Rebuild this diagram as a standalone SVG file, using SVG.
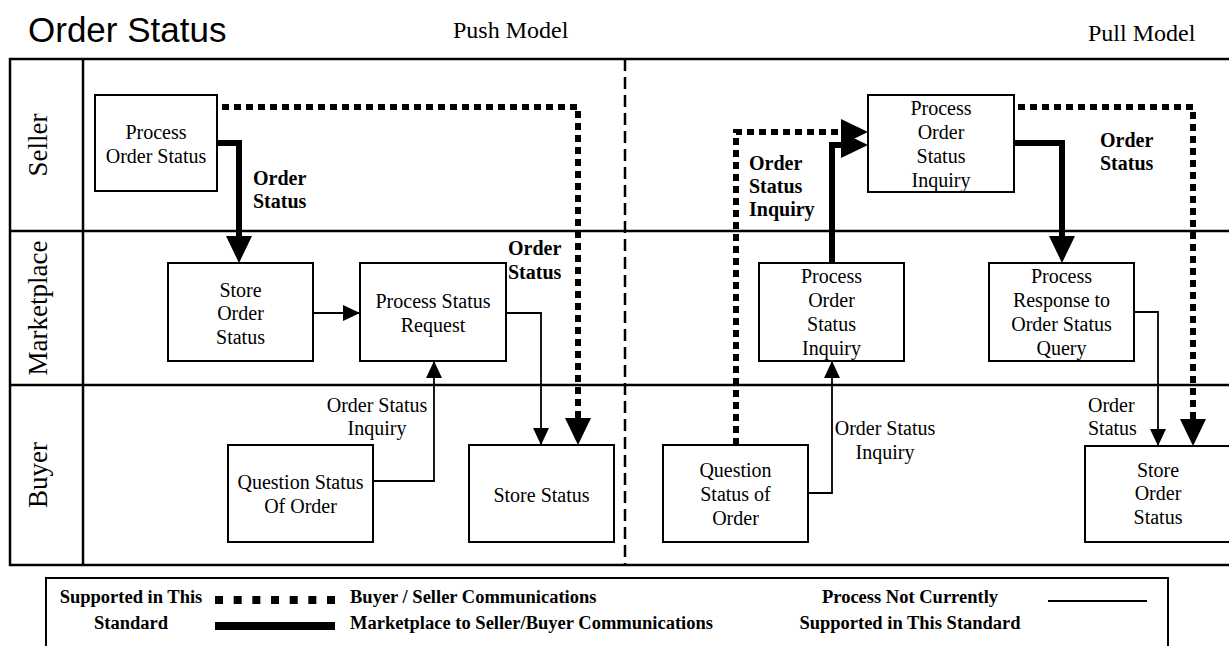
<svg xmlns="http://www.w3.org/2000/svg" width="1229" height="646" viewBox="0 0 1229 646">
<defs>
<style>
.frame{stroke:#000;stroke-width:2.5;fill:none}
.box{fill:#fff;stroke:#000;stroke-width:2}
.t{font-family:"Liberation Serif","Times New Roman",serif;font-size:20px;fill:#000}
.c{text-anchor:middle}
.b{font-weight:bold}
.lane{font-family:"Liberation Serif","Times New Roman",serif;font-size:27px;text-anchor:middle;fill:#000}
.model{font-family:"Liberation Serif","Times New Roman",serif;font-size:24px;fill:#000}
.leg{font-family:"Liberation Serif","Times New Roman",serif;font-size:18.5px;font-weight:bold;fill:#000}
.thin{stroke:#000;stroke-width:1.8;fill:none;marker-end:url(#aThin)}
.thick{stroke:#000;stroke-width:6;fill:none;marker-end:url(#aBig)}
.dot{stroke:#000;stroke-width:6;fill:none;stroke-dasharray:7 5;marker-end:url(#aBig)}
</style>
<marker id="aThin" markerUnits="userSpaceOnUse" markerWidth="17" markerHeight="16" refX="17" refY="8" orient="auto" overflow="visible">
<path d="M0,0 L17,8 L0,16 z" fill="#000"/>
</marker>
<marker id="aBig" markerUnits="userSpaceOnUse" markerWidth="27" markerHeight="26" refX="1" refY="13" orient="auto" overflow="visible">
<path d="M0,0 L27,13 L0,26 z" fill="#000"/>
</marker>
</defs>
<rect width="1229" height="646" fill="#fff"/>

<text x="28" y="42" font-family="'Liberation Sans',Arial,sans-serif" font-size="35" fill="#000">Order Status</text>
<text class="model" x="453" y="38">Push Model</text>
<text class="model" x="1088" y="41">Pull Model</text>

<g id="frame">
<path class="frame" d="M1229,59 H10 V565 H1229"/>
<line class="frame" x1="10" y1="231" x2="1229" y2="231"/>
<line class="frame" x1="10" y1="385" x2="1229" y2="385"/>
<line class="frame" x1="83" y1="59" x2="83" y2="565"/>
<line x1="625" y1="59" x2="625" y2="565" stroke="#000" stroke-width="2.5" stroke-dasharray="12 6"/>
<text class="lane" transform="translate(47,145) rotate(-90)">Seller</text>
<text class="lane" transform="translate(47,308) rotate(-90)">Marketplace</text>
<text class="lane" transform="translate(47,475) rotate(-90)">Buyer</text>
</g>

<g id="connectors">
<path class="thick" d="M217,143 H239 V237"/>
<path class="dot" d="M222,107 H578 V419"/>
<path class="thin" d="M313,313 H360"/>
<path class="thin" d="M506,313 H541 V445"/>
<path class="thin" d="M373,481 H434 V361"/>
<path class="dot" d="M736,445 V132 H842"/>
<path class="thick" d="M832,263 V145 H842"/>
<path class="thick" d="M1014,143 H1062 V237"/>
<path class="dot" d="M1018,107 H1193 V420"/>
<path class="thin" d="M1134,312 H1158 V446"/>
<path class="thin" d="M808,493 H832 V361"/>
<text class="t b" x="253" y="185">Order</text>
<text class="t b" x="253" y="208">Status</text>
<text class="t b" x="508" y="255">Order</text>
<text class="t b" x="508" y="279">Status</text>
<text class="t c" x="377" y="412">Order Status</text>
<text class="t c" x="377" y="435">Inquiry</text>
<text class="t b" x="749" y="170">Order</text>
<text class="t b" x="749" y="193">Status</text>
<text class="t b" x="749" y="216">Inquiry</text>
<text class="t b" x="1100" y="147">Order</text>
<text class="t b" x="1100" y="170">Status</text>
<text class="t c" x="885" y="435">Order Status</text>
<text class="t c" x="885" y="459">Inquiry</text>
<text class="t" x="1088" y="412">Order</text>
<text class="t" x="1088" y="435">Status</text>
</g>

<g id="n-process-order-status">
<rect class="box" x="95" y="95" width="122" height="96"/>
<text class="t c" x="156" y="139">Process</text>
<text class="t c" x="156" y="163">Order Status</text>
</g>
<g id="n-store-order-status">
<rect class="box" x="168" y="263" width="145" height="98"/>
<text class="t c" x="240.5" y="297">Store</text>
<text class="t c" x="240.5" y="320">Order</text>
<text class="t c" x="240.5" y="344">Status</text>
</g>
<g id="n-process-status-request">
<rect class="box" x="360" y="263" width="146" height="98"/>
<text class="t c" x="433" y="308">Process Status</text>
<text class="t c" x="433" y="332">Request</text>
</g>
<g id="n-question-status-push">
<rect class="box" x="228" y="445" width="145" height="97"/>
<text class="t c" x="300.5" y="489">Question Status</text>
<text class="t c" x="300.5" y="513">Of Order</text>
</g>
<g id="n-store-status">
<rect class="box" x="469" y="445" width="145" height="97"/>
<text class="t c" x="541.5" y="502">Store Status</text>
</g>

<g id="n-seller-posi">
<rect class="box" x="868" y="95" width="146" height="97"/>
<text class="t c" x="941" y="115">Process</text>
<text class="t c" x="941" y="139">Order</text>
<text class="t c" x="941" y="163">Status</text>
<text class="t c" x="941" y="187">Inquiry</text>
</g>
<g id="n-market-posi">
<rect class="box" x="759" y="263" width="145" height="98"/>
<text class="t c" x="831.5" y="283">Process</text>
<text class="t c" x="831.5" y="307">Order</text>
<text class="t c" x="831.5" y="331">Status</text>
<text class="t c" x="831.5" y="355">Inquiry</text>
</g>
<g id="n-process-response">
<rect class="box" x="989" y="263" width="145" height="98"/>
<text class="t c" x="1061.5" y="283">Process</text>
<text class="t c" x="1061.5" y="307">Response to</text>
<text class="t c" x="1061.5" y="331">Order Status</text>
<text class="t c" x="1061.5" y="355">Query</text>
</g>
<g id="n-question-status-pull">
<rect class="box" x="663" y="445" width="145" height="97"/>
<text class="t c" x="735.5" y="477">Question</text>
<text class="t c" x="735.5" y="501">Status of</text>
<text class="t c" x="735.5" y="525">Order</text>
</g>
<g id="n-store-order-status-pull">
<rect class="box" x="1085" y="446" width="146" height="96"/>
<text class="t c" x="1158" y="477">Store</text>
<text class="t c" x="1158" y="500">Order</text>
<text class="t c" x="1158" y="524">Status</text>
</g>

<g id="legend">
<rect x="46" y="578" width="1122" height="80" fill="none" stroke="#000" stroke-width="2"/>
<text class="leg c" x="131" y="603">Supported in This</text>
<text class="leg c" x="131" y="629">Standard</text>
<line x1="215" y1="600" x2="335" y2="600" stroke="#000" stroke-width="8" stroke-dasharray="8 10.67"/>
<line x1="215" y1="626" x2="335" y2="626" stroke="#000" stroke-width="8"/>
<text class="leg" x="350" y="603">Buyer / Seller Communications</text>
<text class="leg" x="350" y="629">Marketplace to Seller/Buyer Communications</text>
<text class="leg c" x="910" y="603">Process Not Currently</text>
<text class="leg c" x="910" y="629">Supported in This Standard</text>
<line x1="1048" y1="601" x2="1147" y2="601" stroke="#000" stroke-width="2"/>
</g>
</svg>
